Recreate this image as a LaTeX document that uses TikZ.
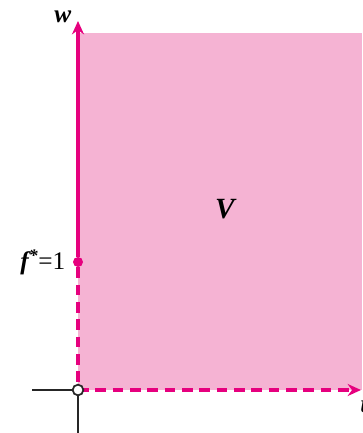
\documentclass[tikz,border=0pt]{standalone}
\usepackage{fontspec}
\setmainfont{Liberation Serif}
\usepackage{tikz}
\usetikzlibrary{arrows.meta}

\definecolor{regionpink}{HTML}{F5B3D3}
\definecolor{linemagenta}{HTML}{E6007E}

\begin{document}
\begin{tikzpicture}[
    x=0.75pt, y=-0.75pt,
    boundary/.style={draw=linemagenta, line width=3pt},
    dashedboundary/.style={boundary, dash pattern=on 8pt off 5pt},
    axis/.style={draw=black!85, line width=1.5pt},
    tip/.style={-{Stealth[length=10pt, width=9pt]}},
    every node/.style={font=\fontsize{19}{22}\selectfont\bfseries\itshape}
]
\useasboundingbox (0,0) rectangle (362,433);
% region and axes
\fill[regionpink] (78,33) rectangle (362,390);
\coordinate (origin) at (78,390);
\coordinate (wtop) at (78,21);
\coordinate (wleft) at (32,390);
\coordinate (wdown) at (78,433);
\coordinate (vright) at (361,390);
\draw[axis] (wleft) -- (origin) -- (wdown);
\node[circle, fill=linemagenta, inner sep=0pt, minimum size=7.5pt] (fstar) at (78,262) {};
\draw[boundary, tip] (fstar) -- (wtop);
\draw[dashedboundary] (fstar) -- (origin);
\draw[dashedboundary, tip] (origin) -- (vright);
\node[circle, draw=black!85, fill=white, line width=1.3pt, inner sep=0pt, minimum size=8pt] (zero) at (origin) {};
% labels
\node[anchor=east] (wlabel) at (76,17) {w};
\node[anchor=east, inner sep=1pt] (flabel) at (67,262) {f\textsuperscript{*}\textmd{\textup{=1}}};
\node[font=\fontsize{22}{26}\selectfont\bfseries\itshape] (vlabel) at (225,209) {V};
\node[anchor=west, inner sep=0pt] (ulabel) at (360,407) {u};
\end{tikzpicture}
\end{document}
